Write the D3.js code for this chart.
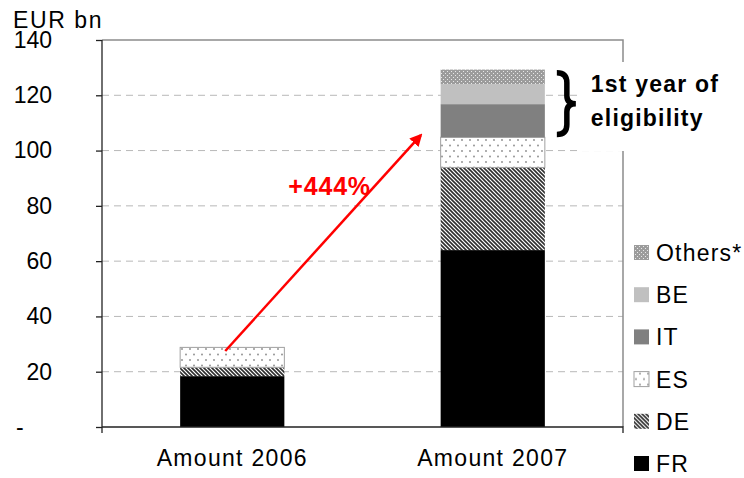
<!DOCTYPE html>
<html>
<head>
<meta charset="utf-8">
<title>Amount 2006 vs 2007</title>
<style>
  body { margin: 0; background: #fff; }
  text { font-family: "Liberation Sans", Arial, sans-serif; fill: #000; }
  .axis path, .axis line { stroke: #222; stroke-width: 1.3; }
  .axis text { font-size: 23px; }
  .xaxis text { letter-spacing: 1.3px; }
  .grid line { stroke: #b8b8b8; stroke-width: 1; stroke-dasharray: 7,5; }
</style>
<script src="https://d3js.org/d3.v7.min.js"></script>
</head>
<body>
<script>
// ---- data (EUR bn) ----
var categories = ["Amount 2006", "Amount 2007"];
var seriesNames = ["FR", "DE", "ES", "IT", "BE", "Others*"];
var FR = [18.4, 64.0];
var DE = [3.2, 29.9];
var ES = [7.2, 10.9];
var IT = [0, 12.0];
var BE = [0, 7.2];
var Others = [0, 5.3];
var yTicks = [0, 20, 40, 60, 80, 100, 120, 140];
var unitLabel = "EUR bn";
var growthLabel = "+444%";
var noteLines = ["1st year of", "eligibility"];

var width = 744, height = 478;
var margin = {top: 40, right: 121, bottom: 51, left: 102};

var svg = d3.select("body").append("svg")
  .attr("width", width).attr("height", height);

// patterns
var defs = svg.append("defs");
var pDE = defs.append("pattern").attr("id", "pDE")
  .attr("patternUnits", "userSpaceOnUse").attr("width", 4).attr("height", 4);
pDE.append("rect").attr("width", 4).attr("height", 4).attr("fill", "#fff");
pDE.append("path").attr("d", "M-1,-1L5,5M3,-1L5,1M-1,3L1,5")
  .attr("stroke", "#2e2e2e").attr("stroke-width", 1.6);

var pES = defs.append("pattern").attr("id", "pES")
  .attr("patternUnits", "userSpaceOnUse").attr("width", 8).attr("height", 11);
pES.append("rect").attr("width", 8).attr("height", 11).attr("fill", "#fff");
pES.append("circle").attr("cx", 2).attr("cy", 2.5).attr("r", 0.9).attr("fill", "#8a8a8a");
pES.append("circle").attr("cx", 6).attr("cy", 8).attr("r", 0.9).attr("fill", "#8a8a8a");

var pOT = defs.append("pattern").attr("id", "pOT")
  .attr("patternUnits", "userSpaceOnUse").attr("width", 4).attr("height", 4);
pOT.append("rect").attr("width", 4).attr("height", 4).attr("fill", "#9c9c9c");
pOT.append("rect").attr("x", 1).attr("y", 1).attr("width", 1).attr("height", 1).attr("fill", "#e8e8e8");
pOT.append("rect").attr("x", 3).attr("y", 3).attr("width", 1).attr("height", 1).attr("fill", "#e8e8e8");

defs.append("marker").attr("id", "arrowHead")
  .attr("viewBox", "0 0 10 10").attr("refX", 8).attr("refY", 5)
  .attr("markerWidth", 5).attr("markerHeight", 5).attr("orient", "auto")
  .append("path").attr("d", "M0,0L10,5L0,10z").attr("fill", "#ff0000");

var fills = {"FR": "#000", "DE": "url(#pDE)", "ES": "url(#pES)", "IT": "#808080", "BE": "#c0c0c0", "Others*": "url(#pOT)"};
var strokes = {"ES": "#a0a0a0"};

// scales
var x = d3.scaleBand().domain(categories)
  .range([margin.left, width - margin.right])
  .paddingInner(0.6).paddingOuter(0.3);
var y = d3.scaleLinear().domain([0, 140])
  .range([height - margin.bottom, margin.top]);

// table for stacking
var valuesBySeries = {"FR": FR, "DE": DE, "ES": ES, "IT": IT, "BE": BE, "Others*": Others};
var table = categories.map(function(c, i) {
  var row = {cat: c};
  seriesNames.forEach(function(s) { row[s] = valuesBySeries[s][i]; });
  return row;
});
var stacked = d3.stack().keys(seriesNames)(table);

// gridlines
svg.append("g").attr("class", "grid")
  .selectAll("line").data(yTicks.filter(function(d) { return d > 0 && d < 140; }))
  .enter().append("line")
  .attr("x1", margin.left).attr("x2", width - margin.right)
  .attr("y1", function(d) { return y(d); }).attr("y2", function(d) { return y(d); });

// plot frame (top and right)
svg.append("path")
  .attr("d", "M" + margin.left + "," + y(140) + "H" + (width - margin.right) + "V" + y(0))
  .attr("fill", "none").attr("stroke", "#8c8c8c").attr("stroke-width", 1.5);

// bars
svg.append("g").selectAll("g").data(stacked).enter().append("g")
  .attr("fill", function(d) { return fills[d.key]; })
  .attr("stroke", function(d) { return strokes[d.key] || "none"; })
  .selectAll("rect").data(function(d) { return d.filter(function(p) { return p[1] - p[0] > 0; }); })
  .enter().append("rect")
  .attr("x", function(d) { return x(d.data.cat); })
  .attr("width", x.bandwidth())
  .attr("y", function(d) { return y(d[1]); })
  .attr("height", function(d) { return y(d[0]) - y(d[1]); });

// y axis
var yAxis = d3.axisLeft(y).tickValues(yTicks).tickSize(6).tickPadding(44)
  .tickFormat(function(d) { return d === 0 ? "-" : d; });
var gy = svg.append("g").attr("class", "axis")
  .attr("transform", "translate(" + margin.left + ",0)").call(yAxis);
gy.select(".domain").remove();
gy.append("line").attr("x1", 0).attr("x2", 0)
  .attr("y1", y(140)).attr("y2", y(0) + 6);
gy.selectAll(".tick text").filter(function(d) { return d === 0; })
  .attr("text-anchor", "start").attr("x", -86);

// x axis
var xAxis = d3.axisBottom(x).tickSize(0).tickPadding(23);
var gx = svg.append("g").attr("class", "axis xaxis")
  .attr("transform", "translate(0," + y(0) + ")").call(xAxis);
gx.select(".domain").attr("d", "M" + margin.left + ",0H" + (width - margin.right) + "V6");

// unit label
svg.append("text").attr("x", 13).attr("y", 28)
  .style("font-size", "23px").style("letter-spacing", "1.6px").text(unitLabel);

// growth arrow
var x06 = x(categories[0]) + x.bandwidth() / 2;
var x07 = x(categories[1]);
svg.append("line")
  .attr("x1", x06 - 7).attr("y1", y(27.5))
  .attr("x2", x07 - 20).attr("y2", y(105.5))
  .attr("stroke", "#ff0000").attr("stroke-width", 2.5)
  .attr("marker-end", "url(#arrowHead)");
svg.append("text")
  .attr("x", x(categories[0]) + x.bandwidth() + 4).attr("y", y(84))
  .style("font-size", "25px").style("font-weight", "bold").style("fill", "#ff0000")
  .style("letter-spacing", "0.8px")
  .text(growthLabel);

// note box with brace
var bx = x07 + x.bandwidth();
svg.append("rect").attr("x", bx + 36).attr("y", 62)
  .attr("width", width - bx - 36).attr("height", 89).attr("fill", "#fff");
var bTop = y(129.2) + 3, bBot = y(104.7) - 3, bMid = (bTop + bBot) / 2, b0 = bx + 12;
svg.append("path")
  .attr("d", "M" + b0 + "," + bTop +
    "Q" + (b0 + 10) + "," + bTop + " " + (b0 + 10) + "," + (bTop + 10) +
    "V" + (bMid - 8) +
    "Q" + (b0 + 10) + "," + bMid + " " + (b0 + 19) + "," + bMid +
    "Q" + (b0 + 10) + "," + bMid + " " + (b0 + 10) + "," + (bMid + 8) +
    "V" + (bBot - 10) +
    "Q" + (b0 + 10) + "," + bBot + " " + b0 + "," + bBot)
  .attr("fill", "none").attr("stroke", "#000").attr("stroke-width", 5.5);
svg.append("g").selectAll("text").data(noteLines).enter().append("text")
  .attr("x", bx + 46).attr("y", function(d, i) { return 92 + i * 34; })
  .style("font-size", "23px").style("font-weight", "bold").style("letter-spacing", "1.2px")
  .text(function(d) { return d; });

// legend (reverse order, FR at bottom)
var legend = svg.append("g").selectAll("g")
  .data(seriesNames.slice().reverse()).enter().append("g")
  .attr("transform", function(d, i) { return "translate(634," + (261 + i * 42.2) + ")"; });
legend.append("rect").attr("x", 0).attr("y", -16).attr("width", 15).attr("height", 15)
  .attr("fill", function(d) { return fills[d]; })
  .attr("stroke", function(d) { return strokes[d] || "none"; });
legend.append("text").attr("x", 22).attr("y", 0)
  .style("font-size", "23px").style("letter-spacing", "1.2px").text(function(d) { return d; });
</script>
</body>
</html>
